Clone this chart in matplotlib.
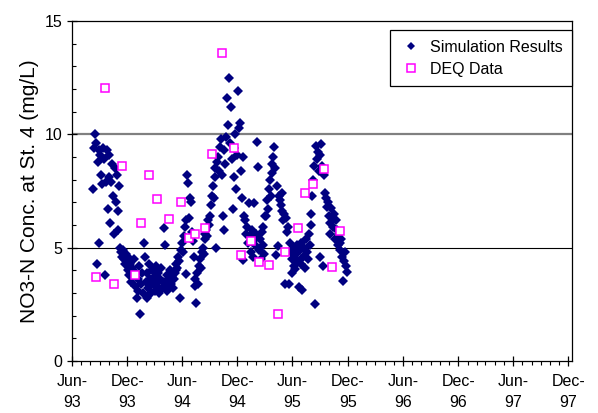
import numpy as np
import matplotlib
matplotlib.use("Agg")
import matplotlib.pyplot as plt
import matplotlib.dates as mdates
from matplotlib.lines import Line2D

plt.rcParams['font.family'] = ['Liberation Sans', 'DejaVu Sans']

# model output, one value every 3 days starting 10 Aug 1993
sim_start = np.datetime64('1993-08-10')
sim_step_days = 3
sim_values = [
    7.6, 9.4, 10.0, 9.6, 4.3, 8.8, 9.3, 5.2, 9.1, 8.2,
    7.8, 9.4, 8.9, 3.8, 7.9, 9.3, 6.7, 8.1, 9.1, 6.1,
    7.9, 8.7, 7.3, 5.6, 8.5, 7.0, 8.2, 6.6, 5.8, 7.7,
    5.0, 4.8, 4.6, 4.9, 4.5, 4.3, 4.7, 4.4, 4.0, 4.6,
    3.8, 4.3, 3.5, 4.1, 3.7, 4.5, 3.3, 3.9, 2.8, 3.6,
    3.1, 4.2, 2.07, 3.4, 3.9, 3.0, 5.2, 4.6, 3.5, 2.8,
    3.9, 3.2, 4.3, 3.6, 3.0, 4.0, 3.4, 3.7, 3.1, 4.2,
    3.5, 3.3, 3.9, 3.0, 3.6, 4.1, 3.2, 3.5, 5.85, 5.1,
    3.4, 3.8, 3.1, 3.6, 3.3, 4.0, 3.4, 3.7, 3.2, 3.6,
    3.9, 4.0, 4.3, 4.1, 4.6, 4.4, 2.8, 4.9, 5.2, 4.8,
    5.5, 5.9, 3.84, 6.2, 8.2, 7.85, 6.3, 7.2, 7.0, 5.7,
    5.3, 4.6, 3.6, 3.3, 2.56, 3.9, 3.4, 4.2, 4.5, 4.1,
    4.8, 5.0, 4.7, 5.4, 5.6, 5.8, 5.5, 6.2, 6.0, 6.4,
    6.9, 7.3, 7.7, 7.2, 8.1, 8.5, 5.0, 8.8, 9.0, 8.4,
    9.45, 9.8, 8.2, 6.4, 9.3, 5.8, 8.7, 9.9, 11.6, 10.4,
    12.5, 9.6, 11.2, 8.9, 6.7, 9.4, 8.1, 10.0, 7.6, 9.1,
    11.9, 10.3, 10.5, 8.4, 7.2, 9.0, 4.45, 6.4, 6.2, 5.6,
    5.9, 5.2, 6.95, 5.5, 4.8, 5.8, 5.3, 4.6, 6.95, 5.1,
    5.6, 9.67, 8.56, 4.9, 5.4, 4.5, 5.7, 5.1, 5.9, 4.7,
    6.4, 6.4, 7.1, 6.7, 7.6, 8.0, 7.3, 8.7, 8.3, 9.0,
    9.45, 8.5, 4.67, 7.7, 5.07, 7.3, 7.1, 6.9, 7.4, 6.6,
    6.2, 6.5, 3.4, 6.3, 5.7, 5.9, 3.4, 5.2, 4.8, 3.9,
    4.5, 5.0, 4.2, 4.05, 4.7, 5.1, 4.4, 3.25, 4.9, 4.3,
    5.2, 3.13, 4.6, 5.0, 4.1, 5.4, 4.8, 4.5, 5.6, 5.1,
    6.0, 6.5, 7.3, 8.0, 8.6, 2.5, 9.5, 8.9, 9.2, 8.4,
    4.6, 9.1, 9.57, 8.6, 4.2, 8.2, 7.4, 7.2, 6.8, 7.0,
    6.4, 6.1, 5.6, 6.75, 6.3, 5.9, 6.5, 5.4, 6.2, 5.8,
    5.1, 5.6, 5.2, 4.9, 5.4, 4.6, 3.53, 4.4, 4.8, 4.2,
    3.93,
]

# DEQ grab samples
deq_dates = [
    '1993-08-21', '1993-09-17', '1993-10-18', '1993-11-15', '1993-12-25',
    '1994-01-16', '1994-02-10', '1994-03-09', '1994-04-17', '1994-05-27',
    '1994-06-22', '1994-07-14', '1994-08-14', '1994-09-09', '1994-10-11',
    '1994-11-18', '1994-12-14', '1995-01-16', '1995-02-09', '1995-03-14',
    '1995-04-13', '1995-05-09', '1995-06-20', '1995-07-12', '1995-08-07',
    '1995-09-12', '1995-10-09', '1995-11-04',
]
deq_values = [
    3.72, 12.06, 3.38, 8.6, 3.79,
    6.07, 8.2, 7.16, 6.26, 7.03,
    5.41, 5.59, 5.88, 9.13, 13.57,
    9.38, 4.69, 5.29, 4.35, 4.22,
    2.07, 4.82, 5.85, 7.43, 7.82,
    8.47, 4.16, 5.73,
]

sim_dates = sim_start + np.arange(len(sim_values)) * np.timedelta64(sim_step_days, 'D')
deq_dates = np.array(deq_dates, dtype='datetime64[D]')

fig = plt.figure(figsize=(5.98, 4.13), dpi=100)
ax = fig.add_axes([72 / 598, 1 - 361 / 413, 500 / 598, 340 / 413])

ax.plot(sim_dates, sim_values, linestyle='none', marker='D', markersize=5.4,
        color='#000080', markeredgewidth=0, label='Simulation Results', zorder=3)
ax.plot(deq_dates, deq_values, linestyle='none', marker='s', markersize=5.6,
        markerfacecolor='white', markeredgecolor='#FF00FF', markeredgewidth=1.1,
        label='DEQ Data', zorder=4)

# horizontal grid
ax.axhline(10, color='#808080', lw=1.6, zorder=1)
ax.axhline(5, color='black', lw=0.8, zorder=1)

ax.set_xlim(np.datetime64('1993-06-01'), np.datetime64('1997-12-13'))
ax.set_ylim(0, 15)
ax.set_yticks([0, 5, 10, 15])
ax.yaxis.set_minor_locator(matplotlib.ticker.MultipleLocator(1))
ax.xaxis.set_major_locator(mdates.MonthLocator(bymonth=[6, 12]))
ax.xaxis.set_major_formatter(mdates.DateFormatter('%b-\n%y'))
ax.xaxis.set_minor_locator(mdates.MonthLocator())

ax.tick_params(axis='both', which='major', direction='inout', length=7,
               width=0.9, labelsize=11.5, colors='black')
ax.tick_params(axis='x', which='major', pad=6)
ax.tick_params(axis='x', which='minor', direction='out', length=3, width=0.8)
ax.tick_params(axis='y', which='minor', direction='in', length=3, width=0.8)
for lbl in ax.get_xticklabels():
    lbl.set_linespacing(1.45)

for s in ax.spines.values():
    s.set_linewidth(0.9)
    s.set_color('black')

ax.set_ylabel('NO3-N Conc. at St. 4 (mg/L)', fontsize=15, labelpad=4)

handles = [
    Line2D([], [], linestyle='none', marker='D', markersize=4.2, color='#000080',
           markeredgewidth=0),
    Line2D([], [], linestyle='none', marker='s', markersize=5.2, markerfacecolor='white',
           markeredgecolor='#FF00FF', markeredgewidth=1.1),
]
leg = ax.legend(handles, ['Simulation Results', 'DEQ Data'], loc='upper right',
                bbox_to_anchor=(1.0, 1 - 9 / 340), borderaxespad=0, fontsize=11.5,
                frameon=True, fancybox=False, edgecolor='black', framealpha=1,
                handlelength=1.5, handletextpad=0.4, borderpad=0.6,
                labelspacing=0.45)
leg.get_frame().set_linewidth(0.9)

fig.savefig('out.png', dpi=100)
